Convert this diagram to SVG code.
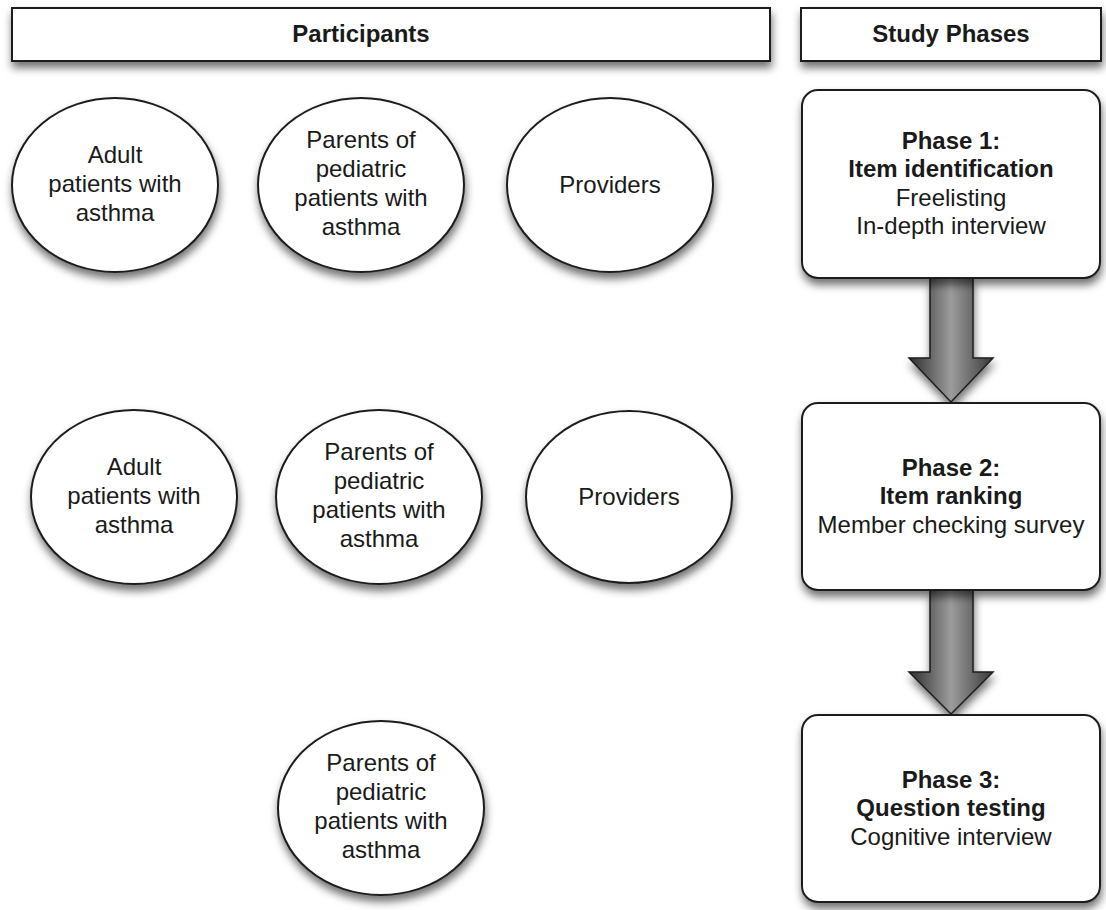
<svg xmlns="http://www.w3.org/2000/svg" width="1106" height="910" viewBox="0 0 1106 910">
  <style>
    .shape { fill: #ffffff; stroke: #1e1e1e; stroke-width: 2; filter: url(#shadow); }
    .t { font-family: "Liberation Sans", Arial, Helvetica, sans-serif; font-size: 24px; fill: #1a1a1a; text-anchor: middle; }
    .b { font-weight: bold; }
    .arrow { fill: url(#arrowGrad); stroke: #1e1e1e; stroke-width: 1.5; filter: url(#shadow); }
  </style>
  <defs>
    <filter id="shadow" x="-20%" y="-20%" width="140%" height="150%">
      <feDropShadow dx="1" dy="6" stdDeviation="4" flood-color="#000000" flood-opacity="0.55"/>
    </filter>
    <linearGradient id="arrowGrad" x1="0" y1="0" x2="1" y2="0">
      <stop offset="0" stop-color="#2e2e2e"/>
      <stop offset="0.5" stop-color="#9c9c9c"/>
      <stop offset="1" stop-color="#3a3a3a"/>
    </linearGradient>
  </defs>
  <rect width="1106" height="910" fill="#ffffff"/>

  <g id="header-participants">
    <rect class="shape" x="12" y="8" width="758" height="53"/>
    <text class="t b" x="361" y="42">Participants</text>
  </g>
  <g id="header-study-phases">
    <rect class="shape" x="801" y="8" width="300" height="53"/>
    <text class="t b" x="951" y="42">Study Phases</text>
  </g>

  <g id="connectors">
    <path class="arrow" d="M930,278 L973,278 L973,358 L993,358 L951,402 L909,358 L930,358 Z"/>
    <path class="arrow" d="M930,590 L973,590 L973,672 L993,672 L951,714 L909,672 L930,672 Z"/>
  </g>

  <g id="r1-adult">
    <ellipse class="shape" cx="115" cy="185" rx="103" ry="87"/>
    <text class="t" x="115" y="163">Adult</text>
    <text class="t" x="115" y="192">patients with</text>
    <text class="t" x="115" y="221">asthma</text>
  </g>
  <g id="r1-parents">
    <ellipse class="shape" cx="361" cy="185" rx="103" ry="87"/>
    <text class="t" x="361" y="148">Parents of</text>
    <text class="t" x="361" y="177">pediatric</text>
    <text class="t" x="361" y="206">patients with</text>
    <text class="t" x="361" y="235">asthma</text>
  </g>
  <g id="r1-providers">
    <ellipse class="shape" cx="610" cy="185" rx="103" ry="87"/>
    <text class="t" x="610" y="193">Providers</text>
  </g>

  <g id="r2-adult">
    <ellipse class="shape" cx="134" cy="497" rx="103" ry="87"/>
    <text class="t" x="134" y="475">Adult</text>
    <text class="t" x="134" y="504">patients with</text>
    <text class="t" x="134" y="533">asthma</text>
  </g>
  <g id="r2-parents">
    <ellipse class="shape" cx="379" cy="497" rx="103" ry="87"/>
    <text class="t" x="379" y="460">Parents of</text>
    <text class="t" x="379" y="489">pediatric</text>
    <text class="t" x="379" y="518">patients with</text>
    <text class="t" x="379" y="547">asthma</text>
  </g>
  <g id="r2-providers">
    <ellipse class="shape" cx="629" cy="497" rx="103" ry="86"/>
    <text class="t" x="629" y="505">Providers</text>
  </g>

  <g id="r3-parents">
    <ellipse class="shape" cx="381" cy="808" rx="103" ry="87"/>
    <text class="t" x="381" y="771">Parents of</text>
    <text class="t" x="381" y="800">pediatric</text>
    <text class="t" x="381" y="829">patients with</text>
    <text class="t" x="381" y="858">asthma</text>
  </g>

  <g id="phase1">
    <rect class="shape" x="802" y="90" width="298" height="188" rx="16" ry="16"/>
    <text class="t b" x="951" y="149">Phase 1:</text>
    <text class="t b" x="951" y="177">Item identification</text>
    <text class="t" x="951" y="206">Freelisting</text>
    <text class="t" x="951" y="234">In-depth interview</text>
  </g>
  <g id="phase2">
    <rect class="shape" x="802" y="403" width="298" height="187" rx="16" ry="16"/>
    <text class="t b" x="951" y="476">Phase 2:</text>
    <text class="t b" x="951" y="504">Item ranking</text>
    <text class="t" x="951" y="533">Member checking survey</text>
  </g>
  <g id="phase3">
    <rect class="shape" x="802" y="715" width="298" height="187" rx="16" ry="16"/>
    <text class="t b" x="951" y="788">Phase 3:</text>
    <text class="t b" x="951" y="816">Question testing</text>
    <text class="t" x="951" y="845">Cognitive interview</text>
  </g>
</svg>
